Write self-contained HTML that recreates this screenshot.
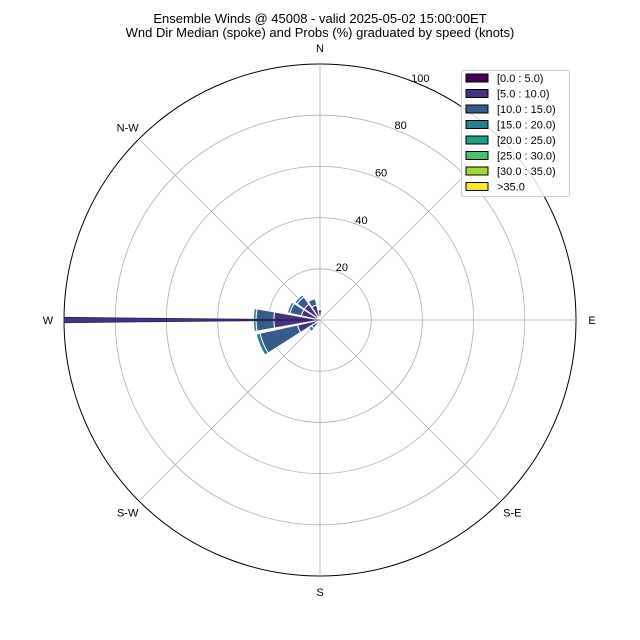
<!DOCTYPE html>
<html><head><meta charset="utf-8"><style>
body{margin:0;background:#fff}
svg{display:block;font-family:"Liberation Sans",sans-serif}
</style></head><body>
<svg id="chart" width="640" height="640" viewBox="0 0 640 640">
<text x="320" y="23" font-size="13" text-anchor="middle">Ensemble Winds @ 45008 - valid 2025-05-02 15:00:00ET</text>
<text x="320" y="37" font-size="13" text-anchor="middle">Wnd Dir Median (spoke) and Probs (%) graduated by speed (knots)</text>
<g id="grid"></g>
<g id="bars"></g>
<g id="labels"></g>
<g id="legend"></g>
</svg>
<script>
const directions = [270, 247.5, 292.5, 315, 337.5, 0, 225];
const speedBins = ["[0.0 : 5.0)","[5.0 : 10.0)","[10.0 : 15.0)","[15.0 : 20.0)","[20.0 : 25.0)","[25.0 : 30.0)","[30.0 : 35.0)",">35.0"];
const bin0 = [0, 0, 0, 0, 0, 0, 0];
const bin1 = [18, 9, 7.5, 7.5, 6, 4, 1];
const bin2 = [7, 15, 4.5, 3.5, 2.5, 0, 3];
const bin3 = [1, 1.5, 1, 1, 0, 0, 1.5];
const bin4 = [0, 0, 0, 0, 0, 0, 0];
const medianDir = 270;
const medianLen = 100;
const rTicks = [20, 40, 60, 80, 100];
const compass = [["N",0],["N-E",45],["E",90],["S-E",135],["S",180],["S-W",225],["W",270],["N-W",315]];
const colors = ["#440154","#46327e","#365c8d","#277f8e","#1fa187","#4ac16d","#a0da39","#fde725"];

const NS="http://www.w3.org/2000/svg";
const cx=320, cy=320, R=256, rMax=100;
const rs = v => v/rMax*R;
const pt = (deg,r) => [cx+r*Math.sin(deg*Math.PI/180), cy-r*Math.cos(deg*Math.PI/180)];
function mk(tag, attrs, parent){const e=document.createElementNS(NS,tag);for(const k in attrs)e.setAttribute(k,attrs[k]);parent.appendChild(e);return e;}
function wedge(a0,a1,r0,r1){
  const p1=pt(a0,r1),p2=pt(a1,r1),p3=pt(a1,r0),p4=pt(a0,r0);
  return `M${p4[0]},${p4[1]}L${p1[0]},${p1[1]}A${r1},${r1} 0 0 1 ${p2[0]},${p2[1]}L${p3[0]},${p3[1]}`+(r0>0?`A${r0},${r0} 0 0 0 ${p4[0]},${p4[1]}`:'')+'Z';
}
const grid=document.getElementById('grid');
rTicks.forEach(t=>{
  const c=mk('circle',{cx,cy,r:rs(t),fill:'none',stroke:t===100?'#000':'#b0b0b0','stroke-width':t===100?1:0.8},grid);
  
  
});
for(let a=0;a<360;a+=45){
  const p=pt(a,R);
  const l=mk('line',{x1:cx,y1:cy,x2:p[0],y2:p[1],stroke:'#b0b0b0','stroke-width':0.8},grid);
  
  
}
const bars=document.getElementById('bars');
const bins=[bin0,bin1,bin2,bin3,bin4];
directions.forEach((d,i)=>{
  let base=0;
  bins.forEach((b,j)=>{
    const v=b[i]; if(v<=0) return;
    const p=mk('path',{d:wedge(d-10,d+10,rs(base),rs(base+v)),fill:colors[j],stroke:'#fff','stroke-width':1},bars);
    
    
    base+=v;
  });
});
const sp=mk('path',{d:wedge(medianDir-0.6,medianDir+0.6,0,rs(medianLen)),fill:colors[1],stroke:'#2a1a5e','stroke-width':0.8},bars);


const labels=document.getElementById('labels');
compass.forEach(([n,a])=>{
  const p=pt(a,R+16);
  const t=mk('text',{x:p[0],y:p[1]+4,'font-size':11,'text-anchor':'middle',fill:n==='N-E'?'#ccc':'#000'},labels);
  t.textContent=n;
  
  
});
rTicks.forEach(t=>{
  const p=pt(22.5,rs(t)+6);
  const e=mk('text',{x:p[0],y:p[1]+4,'font-size':11,'text-anchor':'middle'},labels);
  e.textContent=t;
  
  
});
const lg=document.getElementById('legend');
mk('rect',{x:461.5,y:70.5,width:108,height:126,rx:2,fill:'#fff','fill-opacity':0.85,stroke:'#ccc'},lg);
speedBins.forEach((s,i)=>{
  const y=74+i*15.5;
  const r=mk('rect',{x:466,y:y,width:22,height:8,fill:colors[i],stroke:'#000','stroke-width':1},lg);
  
  
  const t=mk('text',{x:497,y:y+8,'font-size':11},lg);
  t.textContent=s;
  
  
});
</script>
</body></html>
